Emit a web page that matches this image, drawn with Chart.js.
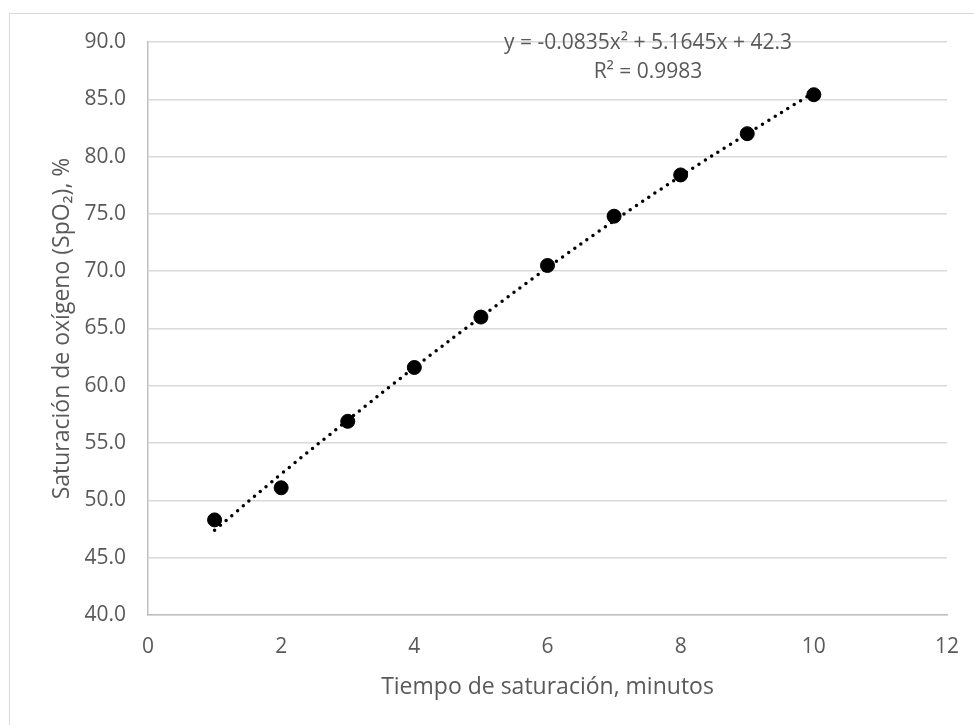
<!DOCTYPE html>
<html>
<head>
<meta charset="utf-8">
<script src="https://cdn.jsdelivr.net/npm/chart.js@4"></script>
<style>
  html, body { margin: 0; padding: 0; background: #fff; }
  #wrap { position: relative; width: 974px; height: 725px; overflow: hidden; }
  #frame { position: absolute; left: 9px; top: 13px; width: 980px; height: 740px;
           border-left: 1.5px solid #d9d9d9; border-top: 1.5px solid #d9d9d9; }
  #c { position: absolute; left: 0; top: 0; }
</style>
</head>
<body>
<div id="wrap">
  <div id="frame"></div>
  <canvas id="c" width="974" height="725"></canvas>
</div>
<script>
// datos
const tiempo = [1, 2, 3, 4, 5, 6, 7, 8, 9, 10];
const spo2 = [48.3, 51.1, 56.9, 61.6, 66.0, 70.5, 74.8, 78.4, 82.0, 85.4];
const tendencia = [47.4, 52.3, 57.0, 61.6, 66.0, 70.3, 74.4, 78.3, 82.0, 85.6];
const ecuacion = ["y = -0.0835x\u00b2 + 5.1645x + 42.3", "R\u00b2 = 0.9983"];

const gris = '#595959';
const fuente = '"Open Sans", "Noto Sans", sans-serif';

const etiquetaEcuacion = {
    id: 'etiquetaEcuacion',
    afterDatasetsDraw(chart) {
        const ctx = chart.ctx;
        ctx.save();
        ctx.fillStyle = gris;
        ctx.font = '21px ' + fuente;
        ctx.textAlign = 'center';
        ctx.textBaseline = 'middle';
        ctx.fillText(ecuacion[0], 648, 43);
        ctx.fillText(ecuacion[1], 648, 72);
        ctx.restore();
    }
};

new Chart(document.getElementById('c'), {
    type: 'scatter',
    data: {
        datasets: [
            {
                label: 'Tendencia',
                data: tiempo.map((x, i) => ({ x: x, y: tendencia[i] })),
                showLine: true,
                borderColor: '#000',
                borderWidth: 3.5,
                borderDash: [0, 7.5],
                borderCapStyle: 'round',
                pointRadius: 0,
                tension: 0.4,
                order: 2
            },
            {
                label: 'SpO2',
                data: tiempo.map((x, i) => ({ x: x, y: spo2[i] })),
                backgroundColor: '#000',
                borderColor: '#000',
                pointRadius: 7,
                order: 1
            }
        ]
    },
    options: {
        responsive: false,
        animation: false,
        layout: { padding: { left: 38, top: 42, right: 27, bottom: 24 } },
        plugins: { legend: { display: false }, tooltip: { enabled: false } },
        scales: {
            x: {
                type: 'linear', min: 0, max: 12,
                afterFit: s => { s.height = 86; s.paddingRight = 0; s.paddingLeft = 0; },
                ticks: { stepSize: 2, color: gris, font: { family: fuente, size: 21 }, padding: 19, maxRotation: 0 },
                grid: { display: false, drawTicks: false },
                border: { color: '#bfbfbf', width: 1.5 },
                title: { display: true, text: 'Tiempo de saturación, minutos', color: gris,
                         font: { family: fuente, size: 23 }, padding: { top: 0, bottom: 0 } }
            },
            y: {
                type: 'linear', min: 40, max: 90,
                afterFit: s => { s.width = 110; },
                ticks: { stepSize: 5, color: gris, font: { family: fuente, size: 21 }, padding: 22,
                         callback: v => v.toFixed(1) },
                grid: { color: '#d9d9d9', lineWidth: 1.5, drawTicks: false },
                border: { color: '#bfbfbf', width: 1.5 },
                title: { display: true, text: 'Saturación de oxígeno (SpO\u2082), %', color: gris,
                         font: { family: fuente, size: 23 }, padding: { top: 11, bottom: 0 } }
            }
        }
    },
    plugins: [etiquetaEcuacion]
});
</script>
</body>
</html>
